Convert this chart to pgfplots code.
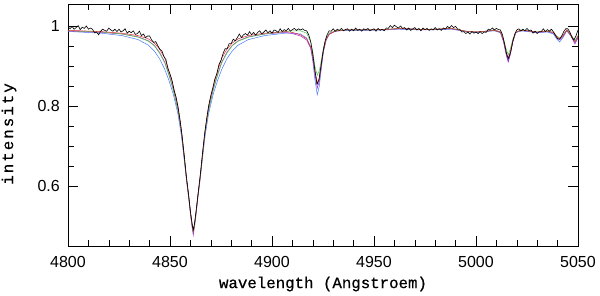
\documentclass[border=0pt]{standalone}
\usepackage{fontspec}
\setmainfont{Liberation Sans}
\newfontfamily\ticksf{Liberation Sans}
\newfontfamily\labtt[FakeBold=0.6]{Liberation Mono}
\newfontfamily\labtty[FakeBold=0.6,LetterSpace=13]{Liberation Mono}
\usepackage{pgfplots}
\pgfplotsset{compat=1.18}
\definecolor{mred}{RGB}{225,45,45}
\definecolor{mgreen}{RGB}{70,200,70}
\definecolor{mblue}{RGB}{70,120,250}
\definecolor{mmag}{RGB}{165,40,200}
\begin{document}
\begin{tikzpicture}
\useasboundingbox (0,0) rectangle (600pt,295pt);
\begin{axis}[
  at={(68pt,49pt)}, anchor=south west,
  scale only axis, width=510pt, height=242pt,
  xmin=4800, xmax=5050, ymin=0.45, ymax=1.055,
  xtick={4800,4850,...,5050}, minor x tick num=4,
  ytick={0.6,0.8,1}, minor y tick num=3,
  tick align=inside,
  major tick length=10pt, minor tick length=6pt,
  every tick/.style={black, line width=0.6pt},
  axis line style={line width=0.7pt},
  /pgf/number format/1000 sep={},
  /pgf/number format/assume math mode=true,
  ticklabel style={font=\ticksf\fontsize{16}{18}\selectfont, inner sep=0pt},
  xticklabel style={yshift=-10pt},
  yticklabel style={xshift=-8pt},
  xlabel={wavelength (Angstroem)},
  ylabel={intensity},
  xlabel style={font=\labtt\fontsize{15.75}{17}\selectfont, at={(axis description cs:0.5,-0.157)}, anchor=center},
  ylabel style={font=\labtty\fontsize{15.75}{17}\selectfont, at={(axis description cs:-0.1157,0.463)}, anchor=center},
  every axis plot/.append style={line width=0.5pt},
]
% blue model
\addplot[mblue] coordinates {
(4800,0.986) (4801.4,0.986) (4816.4,0.982) (4826.4,0.976) (4834.4,0.966) (4839.4,0.952) (4842.4,0.937) (4844.9,0.918) (4847.4,0.892) (4849.4,0.865) (4851.6,0.830) (4853.9,0.780) (4855.6,0.725) (4856.9,0.668) (4858.2,0.610) (4859.2,0.570) (4860.1,0.530) (4860.8,0.504) (4861.4,0.487)
(4862.0,0.504) (4862.7,0.530) (4863.6,0.570) (4864.6,0.610) (4865.9,0.668) (4867.2,0.725) (4868.9,0.780) (4871.2,0.830) (4873.4,0.865) (4875.4,0.892) (4877.9,0.918) (4880.4,0.937) (4883.4,0.952) (4888.4,0.966) (4896.4,0.976) (4906.4,0.982)
(4910,0.982) (4914,0.980) (4917,0.970) (4919,0.945) (4920,0.912) (4921,0.868) (4922.2,0.828) (4923.2,0.850) (4924.2,0.895) (4925.2,0.935) (4926.5,0.965) (4928,0.980) (4931,0.987) (4936,0.989)
(4945,0.989) (4955,0.990) (4962,0.992) (4975,0.990) (4988,0.992) (4995,0.986) (5000,0.984) (5005,0.986) (5009,0.988)
(5012,0.983) (5013.5,0.962) (5014.8,0.930) (5015.8,0.912) (5016.8,0.930) (5018,0.960) (5019.5,0.983) (5022,0.988)
(5027,0.985) (5030,0.983) (5035,0.985) (5038,0.980) (5039.5,0.968) (5041,0.960) (5042.5,0.970) (5044.5,0.988) (5046.5,0.975) (5048.5,0.958) (5050,0.972)
};
% magenta model
\addplot[mmag] coordinates {
(4800,0.987) (4801.4,0.987) (4816.4,0.984) (4826.4,0.980) (4834.4,0.973) (4839.4,0.963) (4842.4,0.951) (4844.9,0.934) (4847.4,0.910) (4849.4,0.880) (4851.6,0.842) (4853.9,0.790) (4855.6,0.735) (4856.9,0.673) (4858.2,0.610) (4859.2,0.568) (4860.1,0.525) (4860.8,0.497) (4861.4,0.477)
(4862.0,0.497) (4862.7,0.525) (4863.6,0.568) (4864.6,0.610) (4865.9,0.673) (4867.2,0.735) (4868.9,0.790) (4871.2,0.842) (4873.4,0.880) (4875.4,0.910) (4877.9,0.934) (4880.4,0.951) (4883.4,0.963) (4888.4,0.973) (4896.4,0.980) (4906.4,0.984)
(4910,0.981) (4914,0.975) (4917,0.965) (4919,0.944) (4920,0.918) (4921,0.880) (4922.2,0.845) (4923.2,0.862) (4924.2,0.900) (4925.2,0.937) (4926.5,0.964) (4928,0.979) (4931,0.987) (4936,0.990)
(4945,0.990) (4955,0.991) (4962,0.993) (4975,0.991) (4988,0.993) (4995,0.987) (5000,0.985) (5005,0.987) (5009,0.989)
(5012,0.984) (5013.5,0.960) (5014.8,0.928) (5015.8,0.910) (5016.8,0.928) (5018,0.960) (5019.5,0.984) (5022,0.989)
(5027,0.986) (5030,0.984) (5035,0.986) (5038,0.982) (5039.5,0.972) (5041,0.965) (5042.5,0.973) (5044.5,0.989) (5046.5,0.976) (5048.5,0.955) (5050,0.970)
};
% green model
\addplot[mgreen] coordinates {
(4800,0.988) (4801.4,0.988) (4816.4,0.985) (4826.4,0.980) (4834.4,0.972) (4839.4,0.962) (4842.4,0.950) (4844.9,0.932) (4847.4,0.908) (4849.4,0.878) (4851.6,0.840) (4853.9,0.790) (4855.6,0.735) (4856.9,0.676) (4858.2,0.612) (4859.2,0.572) (4860.1,0.530) (4860.8,0.502) (4861.4,0.485)
(4862.0,0.502) (4862.7,0.530) (4863.6,0.572) (4864.6,0.612) (4865.9,0.676) (4867.2,0.735) (4868.9,0.790) (4871.2,0.840) (4873.4,0.878) (4875.4,0.908) (4877.9,0.932) (4880.4,0.950) (4883.4,0.962) (4888.4,0.972) (4896.4,0.980) (4906.4,0.986)
(4910,0.988) (4914,0.988) (4917,0.982) (4919,0.960) (4920,0.935) (4921,0.900) (4922.2,0.877) (4923.2,0.888) (4924.2,0.915) (4925.2,0.945) (4926.5,0.968) (4928,0.982) (4931,0.988) (4936,0.990)
(4945,0.990) (4955,0.991) (4962,0.994) (4975,0.991) (4988,0.994) (4995,0.987) (5000,0.985) (5005,0.987) (5009,0.990)
(5012,0.986) (5013.5,0.968) (5014.8,0.942) (5015.8,0.928) (5016.8,0.942) (5018,0.966) (5019.5,0.985) (5022,0.990)
(5027,0.987) (5030,0.985) (5035,0.987) (5038,0.984) (5039.5,0.975) (5041,0.970) (5042.5,0.977) (5044.5,0.990) (5046.5,0.979) (5048.5,0.963) (5050,0.976)
};
% red model
\addplot[mred] coordinates {
(4800,0.989) (4801.4,0.989) (4816.4,0.986) (4826.4,0.982) (4834.4,0.976) (4839.4,0.968) (4842.4,0.957) (4844.9,0.942) (4847.4,0.920) (4849.4,0.889) (4851.6,0.850) (4853.9,0.800) (4855.6,0.740) (4856.9,0.680) (4858.2,0.615) (4859.2,0.575) (4860.1,0.532) (4860.8,0.505) (4861.4,0.488)
(4862.0,0.505) (4862.7,0.532) (4863.6,0.575) (4864.6,0.615) (4865.9,0.680) (4867.2,0.740) (4868.9,0.800) (4871.2,0.850) (4873.4,0.889) (4875.4,0.920) (4877.9,0.942) (4880.4,0.957) (4883.4,0.968) (4888.4,0.976) (4896.4,0.982) (4906.4,0.986)
(4910,0.984) (4914,0.978) (4917,0.968) (4919,0.948) (4920,0.925) (4921,0.890) (4922.2,0.857) (4923.2,0.870) (4924.2,0.905) (4925.2,0.940) (4926.5,0.966) (4928,0.980) (4931,0.987) (4936,0.990)
(4945,0.990) (4955,0.991) (4962,0.994) (4975,0.991) (4988,0.994) (4995,0.987) (5000,0.985) (5005,0.987) (5009,0.990)
(5012,0.985) (5013.5,0.965) (5014.8,0.935) (5015.8,0.920) (5016.8,0.935) (5018,0.963) (5019.5,0.984) (5022,0.990)
(5027,0.987) (5030,0.985) (5035,0.987) (5038,0.984) (5039.5,0.974) (5041,0.968) (5042.5,0.975) (5044.5,0.990) (5046.5,0.978) (5048.5,0.960) (5050,0.975)
};
% observed spectrum
\addplot[black, line width=0.6pt] coordinates {
(4800,0.998) (4801,0.993) (4802,0.999) (4803,0.992) (4804,0.996) (4805,1.001) (4806,0.991) (4807,0.997) (4808,0.994) (4809,1.000)
(4810,0.992) (4811,0.995) (4812,0.992) (4813,0.983) (4814,0.985) (4815,0.978) (4816,0.987) (4817,0.992) (4818,0.989) (4819,0.987)
(4820,0.995) (4821,0.990) (4822,0.987) (4823,0.992) (4824,0.986) (4825,0.992) (4826,0.985) (4827,0.988) (4828,0.993) (4829,0.982)
(4830,0.987) (4831,0.983) (4832,0.988) (4833,0.979) (4834,0.981) (4835,0.987) (4836,0.976) (4837,0.980) (4838,0.971) (4839,0.975)
(4840,0.975) (4841,0.965) (4842,0.959) (4843,0.961) (4844,0.951) (4845,0.942) (4846,0.938) (4847,0.924) (4848,0.916) (4849,0.893)
(4850,0.880) (4851,0.864) (4852,0.839) (4853,0.822) (4854,0.795) (4855,0.762) (4856,0.722) (4857,0.675) (4858,0.625) (4859,0.583)
(4860,0.537) (4861,0.500) (4861.4,0.490) (4862,0.505) (4863,0.546) (4864,0.591) (4865,0.635) (4866,0.685) (4867,0.731) (4868,0.769) (4869,0.801)
(4870,0.826) (4871,0.845) (4872,0.868) (4873,0.881) (4874,0.904) (4875,0.914) (4876,0.931) (4877,0.943) (4878,0.943) (4879,0.956)
(4880,0.956) (4881,0.967) (4882,0.963) (4883,0.971) (4884,0.980) (4885,0.971) (4886,0.978) (4887,0.981) (4888,0.977) (4889,0.986)
(4890,0.978) (4891,0.984) (4892,0.977) (4893,0.984) (4894,0.988) (4895,0.980) (4896,0.985) (4897,0.990) (4898,0.983) (4899,0.988)
(4900,0.982) (4901,0.990) (4902,0.988) (4903,0.984) (4904,0.993) (4905,0.986) (4906,0.991) (4907,0.988) (4908,0.994) (4909,0.987)
(4910,0.991) (4911,0.994) (4912,0.989) (4913,0.993) (4914,0.990) (4915,0.993) (4916,0.989) (4917,0.988) (4918,0.978) (4919,0.960)
(4920,0.930) (4921,0.890) (4922,0.857) (4922.2,0.855) (4923,0.865) (4924,0.900) (4925,0.935) (4926,0.962) (4927,0.978) (4928,0.988) (4929,0.987)
(4930,0.993) (4931,0.987) (4932,0.992) (4933,0.989) (4934,0.994) (4935,0.988) (4936,0.991) (4937,0.993) (4938,0.987) (4939,0.992)
(4940,0.988) (4941,0.995) (4942,0.989) (4943,0.992) (4944,0.987) (4945,0.993) (4946,0.990) (4947,0.994) (4948,0.988) (4949,0.991)
(4950,0.993) (4951,0.987) (4952,0.994) (4953,0.989) (4954,0.992) (4955,0.988) (4956,0.995) (4957,0.994) (4958,1.001) (4959,0.996)
(4960,1.002) (4961,0.998) (4962,0.995) (4963,1.000) (4964,0.994) (4965,0.996) (4966,0.990) (4967,0.995) (4968,0.989) (4969,0.993)
(4970,0.996) (4971,0.990) (4972,0.994) (4973,0.988) (4974,0.995) (4975,0.991) (4976,0.994) (4977,0.989) (4978,0.993) (4979,0.990)
(4980,0.996) (4981,0.990) (4982,0.993) (4983,0.989) (4984,0.995) (4985,0.992) (4986,0.999) (4987,0.995) (4988,1.001) (4989,0.996)
(4990,0.999) (4991,0.992) (4992,0.992) (4993,0.985) (4994,0.986) (4995,0.981) (4996,0.985) (4997,0.980) (4998,0.986) (4999,0.982)
(5000,0.985) (5001,0.981) (5002,0.986) (5003,0.981) (5004,0.985) (5005,0.984) (5006,0.992) (5007,0.990) (5008,0.995) (5009,0.990)
(5010,0.994) (5011,0.991) (5012,0.990) (5013,0.978) (5014,0.955) (5015,0.930) (5015.8,0.918) (5016,0.920) (5017,0.935) (5018,0.960) (5019,0.980)
(5020,0.990) (5021,0.993) (5022,0.987) (5023,0.992) (5024,0.988) (5025,0.994) (5026,0.988) (5027,0.990) (5028,0.982) (5029,0.987)
(5030,0.981) (5031,0.986) (5032,0.986) (5033,0.993) (5034,0.986) (5035,0.991) (5036,0.987) (5037,0.992) (5038,0.985) (5039,0.976)
(5040,0.968) (5041,0.967) (5042,0.975) (5043,0.986) (5044,0.993) (5045,0.993) (5046,0.985) (5047,0.972) (5048,0.965) (5049,0.975)
(5050,0.990)
};
\end{axis}
\end{tikzpicture}
\end{document}
